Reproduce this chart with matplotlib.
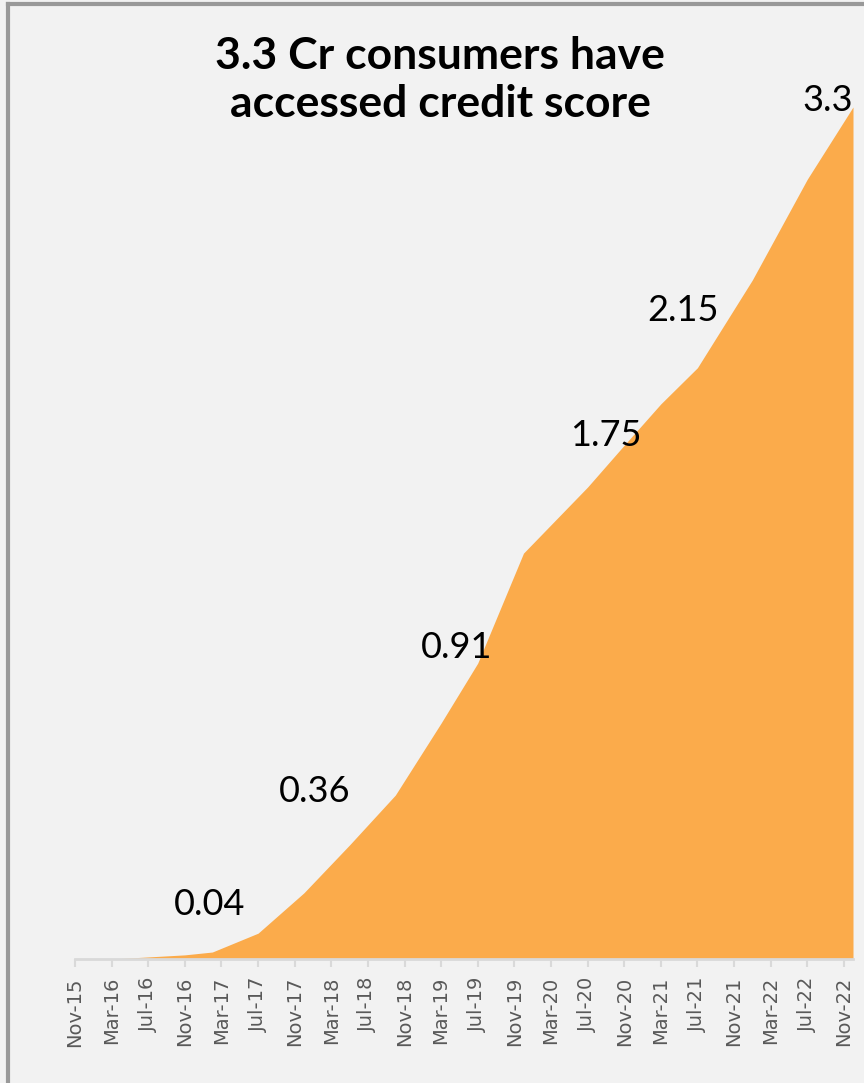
import matplotlib
matplotlib.use("Agg")
import matplotlib.pyplot as plt

# month index (0 = Nov-15) of each vertex and consumers (Cr) at that point
months = [0, 4, 8, 12, 15, 20, 25, 30, 35, 40, 44, 49, 56, 60, 64, 68, 74, 80, 85]
consumers = [0.0, 0.0, 0.008, 0.016, 0.027, 0.10, 0.256, 0.442, 0.635, 0.914,
             1.146, 1.572, 1.828, 1.99, 2.15, 2.29, 2.63, 3.02, 3.30]

tick_labels = ["Nov-15", "Mar-16", "Jul-16", "Nov-16", "Mar-17", "Jul-17",
               "Nov-17", "Mar-18", "Jul-18", "Nov-18", "Mar-19", "Jul-19",
               "Nov-19", "Mar-20", "Jul-20", "Nov-20", "Mar-21", "Jul-21",
               "Nov-21", "Mar-22", "Jul-22", "Nov-22"]

callout_text = ["0.04", "0.36", "0.91", "1.75", "2.15", "3.3"]

# where the callouts sit (month, value-axis units)
callout_x = [14.7, 26.2, 41.7, 58.0, 66.4, 85.0]
callout_y = [0.21, 0.647, 1.205, 2.027, 2.51, 3.325]

W, H = 864, 1083
fig = plt.figure(figsize=(W / 100, H / 100), dpi=100)
fig.patch.set_facecolor("#F2F2F2")

ax = fig.add_axes([75 / W, 1 - 959 / H, (853 - 75) / W, (959 - 107) / H])
ax.set_facecolor("#F2F2F2")
ax.fill_between(months, consumers, 0, color="#FBAB4B", lw=0)
ax.set_xlim(0, 85)
ax.set_ylim(0, 3.3)

for s in ["left", "right", "top"]:
    ax.spines[s].set_visible(False)
ax.spines["bottom"].set_color("#D9D9D9")
ax.spines["bottom"].set_linewidth(2)
ax.set_yticks([])
ax.set_xticks(range(0, 4 * len(tick_labels), 4))
ax.set_xticklabels(tick_labels, rotation=90, color="#595959", fontsize=14,
                   family="DejaVu Sans")
ax.tick_params(axis="x", length=6, width=1.5, color="#D9D9D9", pad=7)

for i, (t, x, y) in enumerate(zip(callout_text, callout_x, callout_y)):
    ha = "right" if i == len(callout_text) - 1 else "center"
    ax.text(x, y, t, ha=ha, va="center", fontsize=26, color="black",
            family="Lato", clip_on=False)

fig.text(440 / W, 1 - 80 / H, "3.3 Cr consumers have\naccessed credit score",
         ha="center", va="center", fontsize=32, fontweight="bold",
         family="Lato", linespacing=1.25)

# frame on the left and top edges
fig.add_artist(plt.Line2D([8 / W, 8 / W], [0, 1 - 4 / H], color="#999999",
                          lw=3, transform=fig.transFigure))
fig.add_artist(plt.Line2D([8 / W, 1], [1 - 4 / H, 1 - 4 / H], color="#999999",
                          lw=3, transform=fig.transFigure))

fig.savefig("out.png", dpi=100, facecolor=fig.get_facecolor())
